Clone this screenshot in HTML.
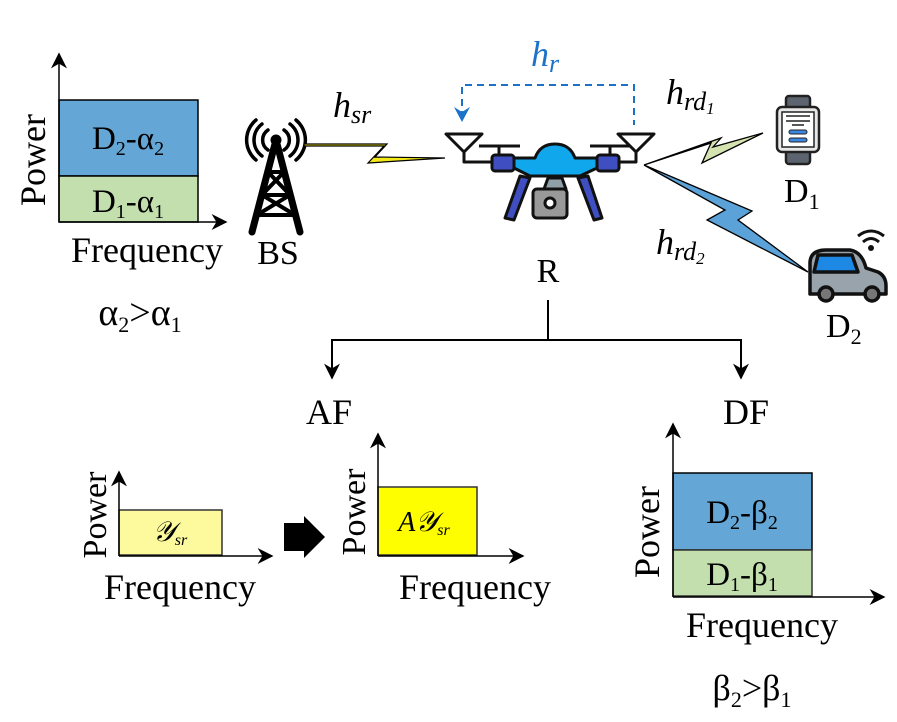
<!DOCTYPE html>
<html><head><meta charset="utf-8"><style>
html,body{margin:0;padding:0;background:#fff}
svg{display:block}
text{font-family:"Liberation Serif",serif;fill:#000}
.it{font-style:italic}
</style></head><body>
<svg width="897" height="722" viewBox="0 0 897 722" xmlns="http://www.w3.org/2000/svg">
<defs>
<marker id="ahb" viewBox="0 0 10 10" refX="9" refY="5" markerWidth="16" markerHeight="16" orient="auto" markerUnits="userSpaceOnUse">
<path d="M0,0 L10,5 L0,10 L3,5 z" fill="#000"/></marker>
</defs>

<!-- Top-left chart -->
<rect x="59" y="100" width="139" height="76" fill="#64a6d6" stroke="#000" stroke-width="1.5"/>
<rect x="59" y="176" width="139" height="46" fill="#c3dfae" stroke="#000" stroke-width="1.5"/>
<line x1="59" y1="222" x2="59" y2="54" stroke="#000" stroke-width="1.5" marker-end="url(#ahb)"/>
<line x1="59" y1="222" x2="226" y2="222" stroke="#000" stroke-width="1.5" marker-end="url(#ahb)"/>
<text x="128" y="149" font-size="33" text-anchor="middle">D<tspan font-size="20" dy="6">2</tspan><tspan dy="-6">-α</tspan><tspan font-size="20" dy="6">2</tspan></text>
<text x="128" y="212" font-size="33" text-anchor="middle">D<tspan font-size="20" dy="6">1</tspan><tspan dy="-6">-α</tspan><tspan font-size="20" dy="6">1</tspan></text>
<text transform="translate(45,160) rotate(-90)" font-size="36" text-anchor="middle">Power</text>
<text x="147" y="262" font-size="36" text-anchor="middle">Frequency</text>
<text x="140" y="325" font-size="38" text-anchor="middle">α<tspan font-size="22" dy="7">2</tspan><tspan dy="-7">&gt;α</tspan><tspan font-size="22" dy="7">1</tspan></text>

<!-- BS tower -->
<g stroke="#000" fill="none" stroke-linecap="round">
<path d="M276,140 L252,232 M276,140 L300,232" stroke-width="7"/>
<path d="M268,172 L284,172 M262,195 L290,195 M257,215 L295,215 M268,172 L290,195 L257,215 M284,172 L262,195 L295,215" stroke-width="4"/>
<circle cx="276" cy="140" r="4" stroke-width="3"/>
<path d="M268,130 A12,12 0 0 0 268,150 M284,130 A12,12 0 0 1 284,150" stroke-width="3.5"/>
<path d="M262,124 A20,20 0 0 0 262,156 M290,124 A20,20 0 0 1 290,156" stroke-width="3.5"/>
<path d="M256,120 A26,26 0 0 0 256,160 M296,120 A26,26 0 0 1 296,160" stroke-width="3.5"/>
</g>
<text x="278" y="264" font-size="34" text-anchor="middle">BS</text>

<!-- hsr lightning -->
<path d="M304,146 L384,146 L368,163 L445,158 L375,157 L387,144 L304,144 z" fill="#f4e81a" stroke="#000" stroke-width="1.2"/>
<text x="333" y="117" font-size="36" class="it">h<tspan font-size="26" dy="6">sr</tspan></text>

<!-- hr dashed -->
<path d="M462,118 L462,85 L634,85 L634,125" fill="none" stroke="#1a73c9" stroke-width="2" stroke-dasharray="7,5"/>
<path d="M454,107 L462,122 L470,107 L462,112 z" fill="#1a73c9"/>
<text x="531" y="66" font-size="36" class="it" style="fill:#1a73c9">h<tspan font-size="26" dy="6">r</tspan></text>

<!-- Drone -->
<g stroke="#111" stroke-width="3" stroke-linejoin="round">
<path d="M446,134 L482,134 L464,152 z" fill="#fff"/>
<path d="M464,152 L464,162 L495,162" fill="none"/>
<path d="M618,134 L654,134 L636,152 z" fill="#fff"/>
<path d="M636,152 L636,162 L605,162" fill="none"/>
<path d="M479,146 L520,146 M590,146 L630,146 M499,146 L499,156 M610,146 L610,156" fill="none"/>
<path d="M520,176 L505,218 L514,220 L530,178 z" fill="#3f4fc1"/>
<path d="M588,176 L602,218 L594,220 L578,178 z" fill="#3f4fc1"/>
<rect x="492" y="155" width="22" height="16" rx="3" fill="#3f4fc1"/>
<rect x="597" y="155" width="22" height="16" rx="3" fill="#3f4fc1"/>
<path d="M514,158 L535,158 Q540,144 555,144 Q570,144 575,158 L597,158 L597,168 L580,176 L530,176 L514,168 z" fill="#10a7ec"/>
<path d="M548,178 L562,178 L566,189 L544,189 z" fill="#8fa0a8"/>
<rect x="533" y="189" width="34" height="29" rx="4" fill="#999"/>
<circle cx="550" cy="203" r="5" fill="#fff"/>
</g>
<text x="548" y="282" font-size="34" text-anchor="middle">R</text>

<!-- hrd lightnings -->
<path d="M644,165 L711,143 L702,163 L763,133 L713,147 L721,138 z" fill="#d5e3b1" stroke="#000" stroke-width="1.3"/>
<path d="M644,165 L725,210 L707,220 L808,272 L738,220 L752,211 z" fill="#5aa2d8" stroke="#000" stroke-width="1.3"/>
<text x="666" y="104" font-size="36" class="it">h<tspan font-size="26" dy="6">rd</tspan><tspan font-size="17" dy="4">1</tspan></text>
<text x="656" y="254" font-size="36" class="it">h<tspan font-size="26" dy="6">rd</tspan><tspan font-size="17" dy="4">2</tspan></text>

<!-- watch -->
<g stroke="#222" stroke-width="2.5">
<rect x="786" y="96" width="24" height="14" rx="3" fill="#5c6470"/>
<rect x="786" y="150" width="24" height="14" rx="3" fill="#5c6470"/>
<rect x="777" y="107" width="42" height="45" rx="5" fill="#e8e8e8"/>
<rect x="782" y="112" width="32" height="35" fill="#fff" stroke-width="1.5"/>
<rect x="789" y="130" width="18" height="4" rx="2" fill="#3d86e0" stroke-width="1"/>
<rect x="789" y="138" width="18" height="4" rx="2" fill="#3d86e0" stroke-width="1"/>
<path d="M786,116 L810,116 M786,121 L810,121 M792,125 L804,125" stroke-width="1.5"/>
</g>
<text x="784" y="202" font-size="34">D<tspan font-size="22" dy="7">1</tspan></text>

<!-- car -->
<g stroke="#111" stroke-width="3.5" stroke-linejoin="round">
<path d="M810,288 L810,262 Q811,250 826,250 L850,250 Q862,252 866,268 L878,272 Q886,276 886,286 L886,294 L810,294 z" fill="#98a3ab"/>
<path d="M814,272 L818,255 L852,255 L858,272 z" fill="#1e88e5"/>
<circle cx="826" cy="294" r="7" fill="#777"/>
<circle cx="872" cy="294" r="7" fill="#777"/>
</g>
<path d="M858,236 Q871,226 884,236 M863,242 Q871,235 879,242" fill="none" stroke="#111" stroke-width="3"/>
<circle cx="871" cy="248" r="3" fill="#111"/>
<text x="826" y="337" font-size="34">D<tspan font-size="22" dy="7">2</tspan></text>

<!-- tree lines -->
<path d="M548,300 L548,340 M332,340 L741,340" stroke="#000" stroke-width="2" fill="none"/>
<line x1="332" y1="339" x2="332" y2="378" stroke="#000" stroke-width="2" marker-end="url(#ahb)"/>
<line x1="741" y1="339" x2="741" y2="378" stroke="#000" stroke-width="2" marker-end="url(#ahb)"/>
<text x="329" y="424" font-size="36" text-anchor="middle">AF</text>
<text x="746" y="424" font-size="36" text-anchor="middle">DF</text>

<!-- AF chart 1 -->
<rect x="119" y="510" width="103" height="45" fill="#fcfa9c" stroke="#333" stroke-width="1.5"/>
<line x1="119" y1="556" x2="119" y2="472" stroke="#000" stroke-width="1.5" marker-end="url(#ahb)"/>
<line x1="119" y1="556" x2="272" y2="556" stroke="#000" stroke-width="1.5" marker-end="url(#ahb)"/>
<text x="170" y="541" font-size="28" text-anchor="middle" class="it">𝒴<tspan font-size="16" dy="4">sr</tspan></text>
<text transform="translate(106,515) rotate(-90)" font-size="34" text-anchor="middle">Power</text>
<text x="180" y="599" font-size="36" text-anchor="middle">Frequency</text>

<!-- big arrow -->
<path d="M284,523 L304,523 L304,516 L325,537 L304,558 L304,551 L284,551 z" fill="#000"/>

<!-- AF chart 2 -->
<rect x="378" y="487" width="99" height="68" fill="#fefe00" stroke="#333" stroke-width="1.5"/>
<line x1="378" y1="556" x2="378" y2="434" stroke="#000" stroke-width="1.5" marker-end="url(#ahb)"/>
<line x1="378" y1="556" x2="523" y2="556" stroke="#000" stroke-width="1.5" marker-end="url(#ahb)"/>
<text x="424" y="531" font-size="28" text-anchor="middle" class="it">A𝒴<tspan font-size="16" dy="4">sr</tspan></text>
<text transform="translate(365,512) rotate(-90)" font-size="34" text-anchor="middle">Power</text>
<text x="475" y="599" font-size="36" text-anchor="middle">Frequency</text>

<!-- DF chart -->
<rect x="673" y="473" width="139" height="77" fill="#64a6d6" stroke="#000" stroke-width="1.5"/>
<rect x="673" y="550" width="139" height="46" fill="#c3dfae" stroke="#333" stroke-width="1.5"/>
<line x1="673" y1="597" x2="673" y2="424" stroke="#000" stroke-width="1.5" marker-end="url(#ahb)"/>
<line x1="673" y1="597" x2="884" y2="597" stroke="#000" stroke-width="1.5" marker-end="url(#ahb)"/>
<text x="742" y="523" font-size="33" text-anchor="middle">D<tspan font-size="20" dy="6">2</tspan><tspan dy="-6">-β</tspan><tspan font-size="20" dy="6">2</tspan></text>
<text x="742" y="585" font-size="33" text-anchor="middle">D<tspan font-size="20" dy="6">1</tspan><tspan dy="-6">-β</tspan><tspan font-size="20" dy="6">1</tspan></text>
<text transform="translate(659,532) rotate(-90)" font-size="36" text-anchor="middle">Power</text>
<text x="762" y="637" font-size="36" text-anchor="middle">Frequency</text>
<text x="752" y="700" font-size="36" text-anchor="middle">β<tspan font-size="22" dy="7">2</tspan><tspan dy="-7">&gt;β</tspan><tspan font-size="22" dy="7">1</tspan></text>
</svg>
</body></html>
